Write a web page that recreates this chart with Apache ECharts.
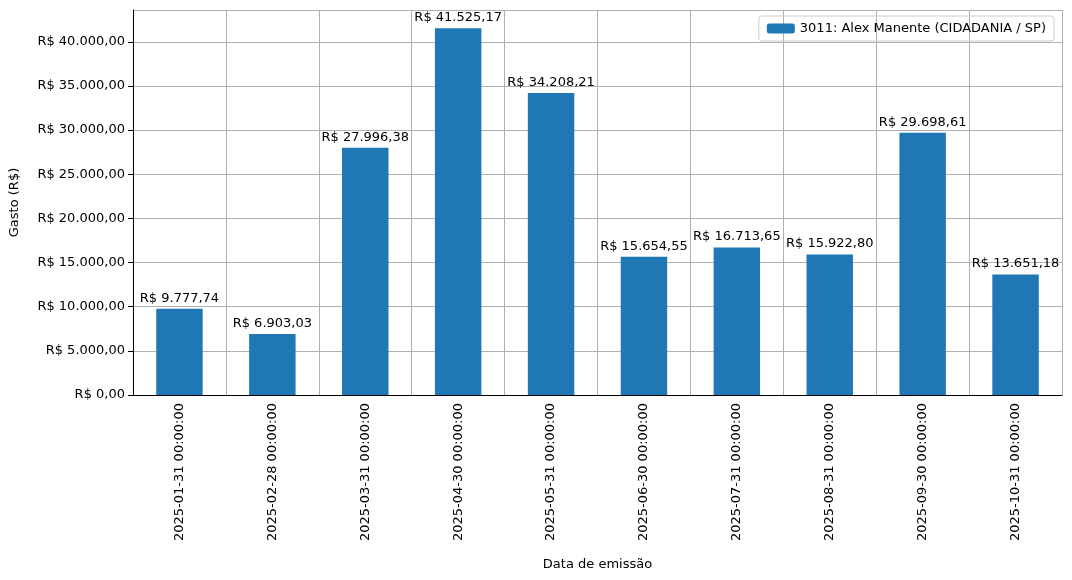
<!DOCTYPE html>
<html><head><meta charset="utf-8">
<script src="https://cdn.jsdelivr.net/npm/echarts@6/dist/echarts.min.js"></script>
<style>body{margin:0}#c{width:1072px;height:580px}</style></head>
<body><div id="c"></div>
<script>
const categories = ["2025-01-31 00:00:00","2025-02-28 00:00:00","2025-03-31 00:00:00","2025-04-30 00:00:00","2025-05-31 00:00:00","2025-06-30 00:00:00","2025-07-31 00:00:00","2025-08-31 00:00:00","2025-09-30 00:00:00","2025-10-31 00:00:00"];
const values = [9777.74, 6903.03, 27996.38, 41525.17, 34208.21, 15654.55, 16713.65, 15922.80, 29698.61, 13651.18];
const seriesName = "3011: Alex Manente (CIDADANIA / SP)";

const brl = v => "R$ " + v.toFixed(2).replace(".", ",").replace(/\B(?=(\d{3})+(?!\d))/g, ".");
const font = "DejaVu Sans";

const chart = echarts.init(document.getElementById("c"));
chart.setOption({
  animation: false,
  textStyle: { fontFamily: font },
  grid: { left: 132, right: 10, top: 10, bottom: 185 },
  legend: {
    right: 18, top: 16, orient: "vertical",
    itemWidth: 28, itemHeight: 10, itemGap: 0,
    padding: [6, 8], borderColor: "#ccc", borderWidth: 1, borderRadius: 3,
    textStyle: { fontSize: 13, color: "#000" },
    data: [seriesName]
  },
  xAxis: {
    type: "category", data: categories,
    name: "Data de emissão", nameLocation: "middle", nameGap: 163,
    nameTextStyle: { fontSize: 13, color: "#000" },
    axisLine: { lineStyle: { color: "#000" } },
    axisTick: { alignWithLabel: true, lineStyle: { color: "#000" } },
    axisLabel: { rotate: 90, fontSize: 13, color: "#000", interval: 0 },
    splitLine: { show: true, interval: 0, lineStyle: { color: "#b0b0b0" } }
  },
  yAxis: {
    type: "value", min: 0, max: 43601, interval: 5000,
    name: "Gasto (R$)", nameLocation: "middle", nameGap: 112,
    nameTextStyle: { fontSize: 13, color: "#000" },
    axisLine: { show: true, lineStyle: { color: "#000" } },
    axisTick: { show: true, lineStyle: { color: "#000" } },
    axisLabel: { fontSize: 13, color: "#000", showMaxLabel: false, formatter: v => brl(v) },
    splitLine: { lineStyle: { color: "#b0b0b0" } }
  },
  series: [{
    name: seriesName, type: "bar", data: values,
    barCategoryGap: "50%",
    itemStyle: { color: "#1f77b4" },
    label: { show: true, position: "top", distance: 4, fontSize: 13, color: "#000", formatter: p => brl(p.value) }
  }]
});
</script></body></html>
